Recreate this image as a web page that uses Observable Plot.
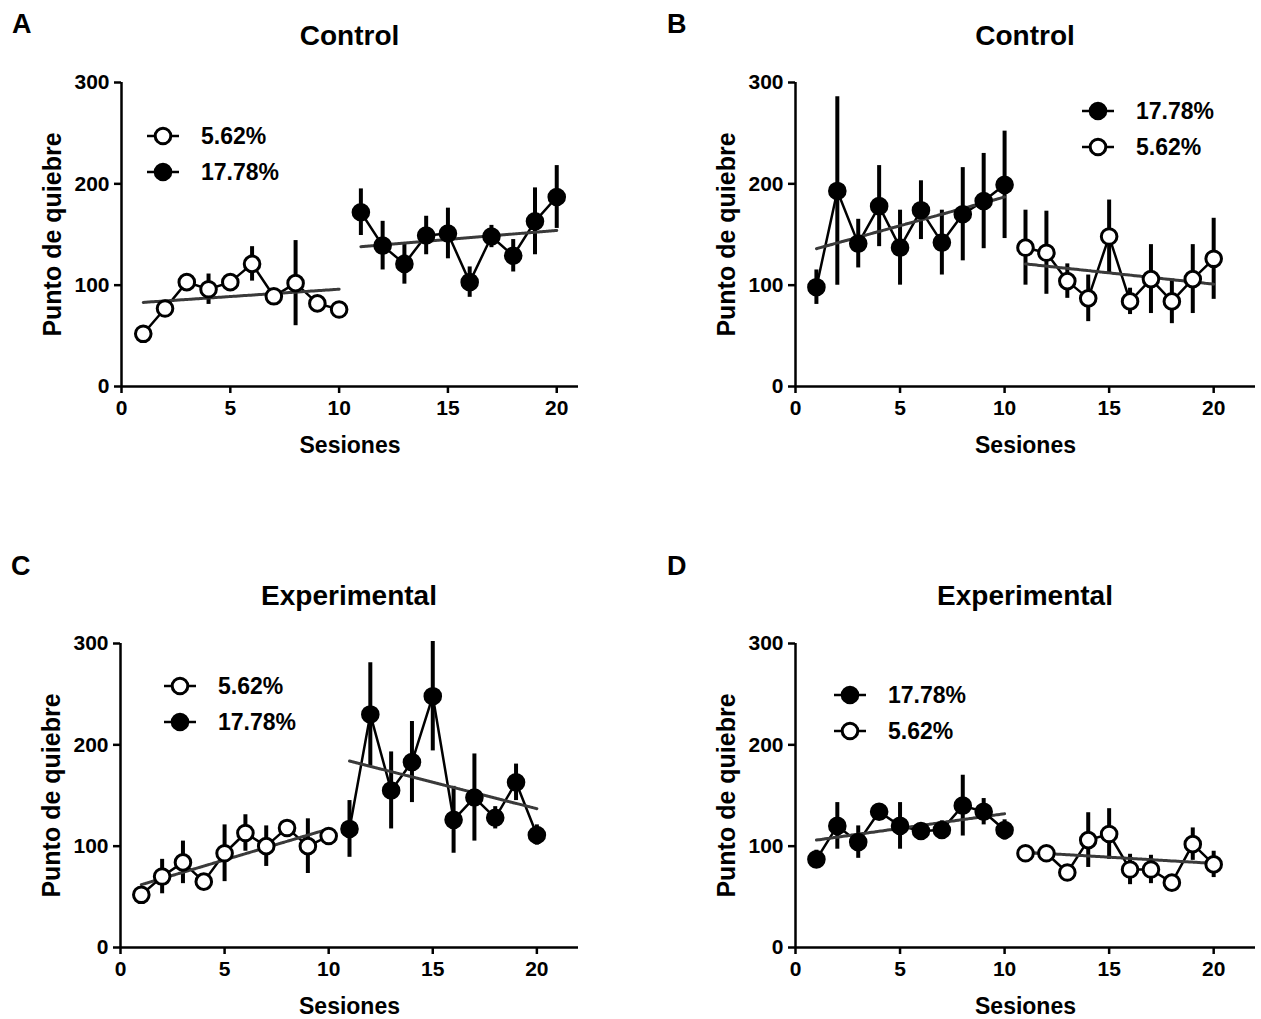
<!DOCTYPE html>
<html>
<head>
<meta charset="utf-8">
<script src="https://cdn.jsdelivr.net/npm/d3@7"></script>
<script src="https://cdn.jsdelivr.net/npm/@observablehq/plot@0.6"></script>
<style>
  html, body { margin: 0; padding: 0; background: #fff; }
  #page { position: relative; width: 1261px; height: 1019px; overflow: hidden;
          font-family: "Liberation Sans", Arial, sans-serif; font-weight: bold; color: #000; }
  .abs { position: absolute; }
  .letter { font-size: 27px; }
  .title { font-size: 28px; text-align: center; width: 400px; line-height: 30px; }
  .legrow { display: flex; align-items: center; height: 36px; font-size: 23px; }
</style>
</head>
<body>
<div id="page"></div>
<script>
// ---------- data ----------
const sessA = [1, 2, 3, 4, 5, 6, 7, 8, 9, 10];
const sessB = [11, 12, 13, 14, 15, 16, 17, 18, 19, 20];
const xTicks = [0, 5, 10, 15, 20];
const yTicks = [0, 100, 200, 300];

// Panel A (Control): 5.62% in sessions 1-10, 17.78% in sessions 11-20
const A_first_mean = [52, 77, 103, 96, 103, 121, 89, 102, 82, 76];
const A_first_err  = [4, 6, 8, 15, 6, 17, 5, 42, 5, 4];
const A_second_mean = [172, 139, 121, 149, 151, 103, 148, 129, 163, 187];
const A_second_err  = [23, 24, 20, 19, 25, 15, 11, 16, 33, 31];
const A_trend_first = [83, 96];
const A_trend_second = [138, 154];

// Panel B (Control): 17.78% in sessions 1-10, 5.62% in sessions 11-20
const B_first_mean = [98, 193, 141, 178, 137, 174, 142, 170, 183, 199];
const B_first_err  = [17, 93, 24, 40, 37, 29, 32, 46, 47, 53];
const B_second_mean = [137, 132, 104, 87, 148, 84, 106, 84, 106, 126];
const B_second_err  = [37, 41, 17, 23, 36, 13, 34, 22, 34, 40];
const B_trend_first = [136, 187];
const B_trend_second = [121, 101];

// Panel C (Experimental): 5.62% then 17.78%
const C_first_mean = [52, 70, 84, 65, 93, 113, 100, 118, 100, 110];
const C_first_err  = [4, 17, 21, 4, 28, 18, 20, 5, 27, 5];
const C_second_mean = [117, 230, 155, 183, 248, 126, 148, 128, 163, 111];
const C_second_err  = [28, 51, 38, 40, 54, 33, 43, 11, 18, 10];
const C_trend_first = [62, 117];
const C_trend_second = [184, 137];

// Panel D (Experimental): 17.78% then 5.62%
const D_first_mean = [87, 120, 104, 134, 120, 115, 116, 140, 134, 116];
const D_first_err  = [9, 23, 16, 8, 23, 5, 9, 30, 13, 10];
const D_second_mean = [93, 93, 74, 106, 112, 77, 77, 64, 102, 82];
const D_second_err  = [4, 4, 4, 27, 25, 15, 14, 4, 16, 13];
const D_trend_first = [106, 132];
const D_trend_second = [94, 83];

const labelLow = "5.62%";
const labelHigh = "17.78%";
const xLabel = "Sesiones";
const yLabel = "Punto de quiebre";

// ---------- layout ----------
const panels = [
  { letter: "A", title: "Control", left: 0, top: 60, width: 620, height: 430,
    mL: 121, mR: 42, mT: 22, mB: 104, xMax: 21,
    first: [A_first_mean, A_first_err, false], second: [A_second_mean, A_second_err, true],
    trend: [A_trend_first, A_trend_second], legend: [[labelLow, false], [labelHigh, true]],
    letterPos: [12, 9], titleY: 21, legPos: [145, 118] },
  { letter: "B", title: "Control", left: 660, top: 60, width: 601, height: 430,
    mL: 135, mR: 6, mT: 22, mB: 104, xMax: 22,
    first: [B_first_mean, B_first_err, true], second: [B_second_mean, B_second_err, false],
    trend: [B_trend_first, B_trend_second], legend: [[labelHigh, true], [labelLow, false]],
    letterPos: [667, 9], titleY: 21, legPos: [1080, 93] },
  { letter: "C", title: "Experimental", left: 0, top: 620, width: 620, height: 430,
    mL: 120, mR: 42, mT: 23, mB: 103, xMax: 22,
    first: [C_first_mean, C_first_err, false], second: [C_second_mean, C_second_err, true],
    trend: [C_trend_first, C_trend_second], legend: [[labelLow, false], [labelHigh, true]],
    letterPos: [11, 551], titleY: 581, legPos: [162, 668] },
  { letter: "D", title: "Experimental", left: 660, top: 620, width: 601, height: 430,
    mL: 135, mR: 6, mT: 23, mB: 103, xMax: 22,
    first: [D_first_mean, D_first_err, true], second: [D_second_mean, D_second_err, false],
    trend: [D_trend_first, D_trend_second], legend: [[labelHigh, true], [labelLow, false]],
    letterPos: [667, 551], titleY: 581, legPos: [832, 677] }
];

const page = document.getElementById("page");
const FONT = '"Liberation Sans", Arial, sans-serif';

function rows(sess, mean, err) {
  return sess.map((s, i) => ({ s, v: mean[i], e: err[i] }));
}

function markerSvg(filled) {
  return `<svg width="36" height="22" viewBox="0 0 36 22">
    <line x1="2" y1="11" x2="34" y2="11" stroke="#000" stroke-width="2.5"/>
    <circle cx="18" cy="11" r="7.8" fill="${filled ? "#000" : "#fff"}" stroke="#000" stroke-width="3"/>
  </svg>`;
}

for (const p of panels) {
  const d1 = rows(sessA, p.first[0], p.first[1]);
  const d2 = rows(sessB, p.second[0], p.second[1]);
  const t1 = [{ s: sessA[0], v: p.trend[0][0] }, { s: sessA[sessA.length - 1], v: p.trend[0][1] }];
  const t2 = [{ s: sessB[0], v: p.trend[1][0] }, { s: sessB[sessB.length - 1], v: p.trend[1][1] }];

  const dotsFor = (data, filled) => Plot.dot(data, {
    x: "s", y: "v", r: 7.8, fill: filled ? "#000" : "#fff", stroke: "#000", strokeWidth: 3
  });
  const errFor = (data) => Plot.ruleX(data, {
    x: "s", y1: d => d.v - d.e, y2: d => d.v + d.e, stroke: "#000", strokeWidth: 4
  });

  const chart = Plot.plot({
    width: p.width, height: p.height,
    marginLeft: p.mL, marginRight: p.mR, marginTop: p.mT, marginBottom: p.mB,
    style: { fontFamily: FONT, fontWeight: "bold", color: "#000", background: "transparent", overflow: "visible" },
    x: { domain: [0, p.xMax] },
    y: { domain: [0, 300] },
    marks: [
      Plot.axisX({ ticks: xTicks, tickSize: 7, tickPadding: 7, strokeWidth: 2.5, fontSize: 21, label: null, tickFormat: d => String(d) }),
      Plot.axisY({ ticks: yTicks, tickSize: 7, tickPadding: 5, strokeWidth: 2.5, fontSize: 21, label: null, tickFormat: d => String(d) }),
      Plot.ruleY([0], { x1: 0, x2: p.xMax, stroke: "#000", strokeWidth: 2.5 }),
      Plot.ruleX([0], { y1: 0, y2: 300, stroke: "#000", strokeWidth: 2.5 }),
      Plot.text([xLabel], { text: d => d, frameAnchor: "bottom", dy: 59, fontSize: 23, lineAnchor: "middle" }),
      Plot.text([yLabel], { text: d => d, frameAnchor: "left", textAnchor: "middle", dx: -69, rotate: -90, fontSize: 25, lineAnchor: "middle" }),
      errFor(d1), errFor(d2),
      Plot.line(d1, { x: "s", y: "v", stroke: "#000", strokeWidth: 2.5 }),
      Plot.line(d2, { x: "s", y: "v", stroke: "#000", strokeWidth: 2.5 }),
      Plot.line(t1, { x: "s", y: "v", stroke: "#3a3a3a", strokeWidth: 3, strokeDasharray: "2,1" }),
      Plot.line(t2, { x: "s", y: "v", stroke: "#3a3a3a", strokeWidth: 3, strokeDasharray: "2,1" }),
      dotsFor(d1, p.first[2]), dotsFor(d2, p.second[2])
    ]
  });
  const holder = document.createElement("div");
  holder.className = "abs";
  holder.style.left = p.left + "px";
  holder.style.top = p.top + "px";
  holder.appendChild(chart);
  page.appendChild(holder);

  const letter = document.createElement("div");
  letter.className = "abs letter";
  letter.style.left = p.letterPos[0] + "px";
  letter.style.top = p.letterPos[1] + "px";
  letter.textContent = p.letter;
  page.appendChild(letter);

  const title = document.createElement("div");
  title.className = "abs title";
  const cx = p.left + p.mL + (p.width - p.mL - p.mR) / 2;
  title.style.left = (cx - 200) + "px";
  title.style.top = p.titleY + "px";
  title.textContent = p.title;
  page.appendChild(title);

  const leg = document.createElement("div");
  leg.className = "abs";
  leg.style.left = p.legPos[0] + "px";
  leg.style.top = p.legPos[1] + "px";
  for (const [lab, filled] of p.legend) {
    const r = document.createElement("div");
    r.className = "legrow";
    r.innerHTML = markerSvg(filled) + `<span style="margin-left:20px">${lab}</span>`;
    leg.appendChild(r);
  }
  page.appendChild(leg);
}
</script>
</body>
</html>
